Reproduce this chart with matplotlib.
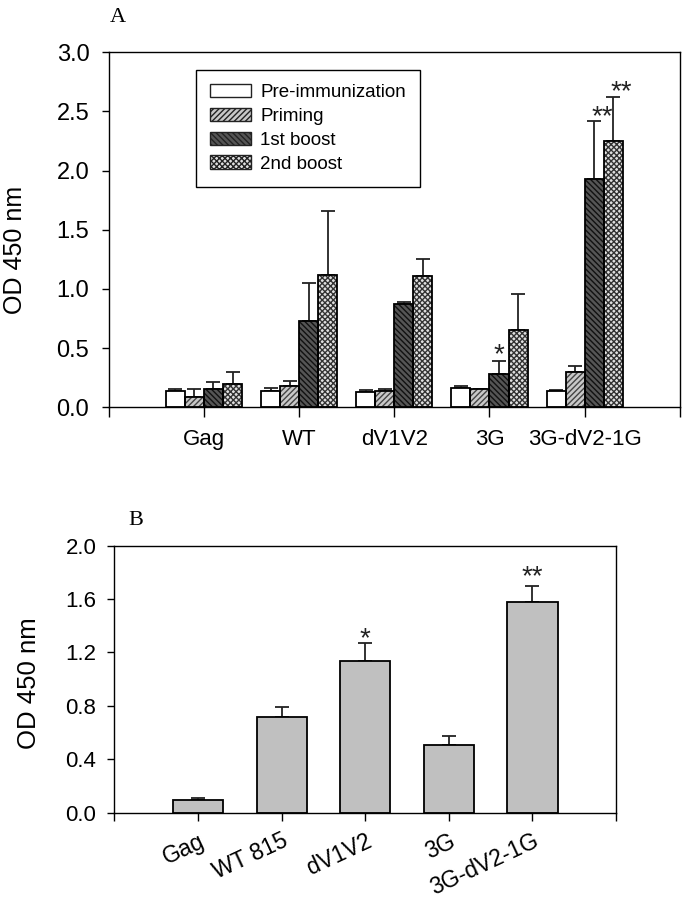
import numpy as np
import matplotlib
matplotlib.use('Agg')
import matplotlib.pyplot as plt
from matplotlib.patches import Patch

plt.rcParams['font.family'] = ['Liberation Sans', 'DejaVu Sans']
plt.rcParams['hatch.linewidth'] = 1.0

# panel A data
groups_a = ['Gag', 'WT', 'dV1V2', '3G', '3G-dV2-1G']
series_a = ['Pre-immunization', 'Priming', '1st boost', '2nd boost']
pre = [0.14, 0.14, 0.13, 0.16, 0.14]
pre_err = [0.015, 0.02, 0.012, 0.017, 0.006]
priming = [0.09, 0.18, 0.14, 0.15, 0.30]
priming_err = [0.06, 0.04, 0.015, 0.0, 0.05]
boost1 = [0.15, 0.73, 0.87, 0.28, 1.93]
boost1_err = [0.06, 0.32, 0.02, 0.11, 0.49]
boost2 = [0.20, 1.12, 1.11, 0.65, 2.25]
boost2_err = [0.10, 0.54, 0.14, 0.31, 0.37]
# (label, group index, series index, y of star centre)
stars_a = [('*', 3, 2, 0.52), ('**', 4, 2, 2.53), ('**', 4, 3, 2.74)]

# panel B data
groups_b = ['Gag', 'WT 815', 'dV1V2', '3G', '3G-dV2-1G']
vals_b = [0.095, 0.72, 1.14, 0.505, 1.58]
err_b = [0.015, 0.075, 0.13, 0.07, 0.12]
stars_b = [('*', 2, 1.37), ('**', 4, 1.83)]

# styles: face, hatch, hatch colour
styles = [('white', '', 'black'),
          ('#c8c8c8', '//////', '#444444'),
          ('#555555', '\\\\\\\\\\\\', '#111111'),
          ('#e0e0e0', 'xxxxxx', '#333333')]

STAR_FS = 20


def put_star(axis, xpos, ycen, lab):
    # asterisk glyph sits ~0.58 em above baseline, shift so its centre lands on ycen
    axis.annotate(lab, (xpos, ycen), xytext=(0, -0.58 * STAR_FS), textcoords='offset points',
                  ha='center', va='baseline', fontsize=STAR_FS, color='#222222')


fig = plt.figure(figsize=(6.93, 8.99), dpi=100)

# ---- panel A ----
ax = fig.add_axes([0.157, 0.547, 0.824, 0.395])
x = np.arange(1, len(groups_a) + 1)
w = 0.2
data = [(pre, pre_err), (priming, priming_err), (boost1, boost1_err), (boost2, boost2_err)]
for i, (vals, errs) in enumerate(data):
    face, hatch, hc = styles[i]
    pos = x + (i - 1.5) * w
    ax.bar(pos, vals, w, color=face, hatch=hatch, edgecolor=hc, linewidth=0, zorder=2)
    ax.bar(pos, vals, w, fill=False, edgecolor='black', linewidth=1.3, zorder=3)
    ax.errorbar(pos, vals, yerr=[np.zeros(len(errs)), errs], fmt='none', ecolor='#222222',
                elinewidth=1.3, capsize=5, capthick=1.3, zorder=1)

star_shift = {'*': 0.0, '**': 0.08}
for lab, g, s, yv in stars_a:
    put_star(ax, x[g] + (s - 1.5) * w + star_shift[lab], yv, lab)

ax.set_xlim(0, 6)
ax.set_ylim(0, 3.0)
ax.set_xticks(range(0, 7))
ax.set_xticklabels([''] + groups_a + [''], fontsize=16)
ax.set_yticks(np.arange(0, 3.01, 0.5))
ax.set_yticklabels(['%.1f' % v for v in np.arange(0, 3.01, 0.5)], fontsize=17)
ax.tick_params(direction='out', length=5, width=1)
ax.tick_params(axis='y', pad=9)
ax.tick_params(axis='x', length=7, pad=9)
ax.set_ylabel('OD 450 nm', fontsize=18, va='center')
ax.yaxis.set_label_coords(-0.165, 0.442)
for sp in ax.spines.values():
    sp.set_linewidth(1.0)

handles = [Patch(facecolor=styles[i][0], hatch=styles[i][1], edgecolor='#222222', linewidth=1.0)
           for i in range(4)]
leg = ax.legend(handles, series_a, loc='upper left', bbox_to_anchor=(0.152, 0.949), fontsize=13.5,
                frameon=True, fancybox=False, framealpha=1, edgecolor='black', borderaxespad=0,
                handlelength=2.2, handleheight=0.7, handletextpad=0.5, labelspacing=0.35,
                borderpad=0.75)
leg.get_frame().set_linewidth(1.0)
fig.text(0.159, 0.981, 'A', fontsize=16, family='Liberation Serif', va='center')

# ---- panel B ----
bx = fig.add_axes([0.165, 0.096, 0.724, 0.297])
xb = np.arange(1, len(groups_b) + 1)
bx.bar(xb, vals_b, 0.6, color='#c0c0c0', edgecolor='black', linewidth=1.3, zorder=2)
bx.errorbar(xb, vals_b, yerr=[np.zeros(len(err_b)), err_b], fmt='none', ecolor='#222222',
            elinewidth=1.3, capsize=5, capthick=1.3, zorder=1)
for lab, g, yv in stars_b:
    put_star(bx, xb[g], yv, lab)

bx.set_xlim(0, 6)
bx.set_ylim(0, 2.0)
bx.set_xticks(range(0, 7))
bx.set_xticklabels([''] + groups_b + [''], fontsize=16.5, rotation=25, ha='right',
                   rotation_mode='anchor')
bx.set_yticks(np.arange(0, 2.01, 0.4))
bx.set_yticklabels(['%.1f' % v for v in np.arange(0, 2.01, 0.4)], fontsize=16)
bx.tick_params(direction='out', length=5, width=1)
bx.tick_params(axis='y', pad=8)
bx.tick_params(axis='x', length=6, pad=6)
bx.set_ylabel('OD 450 nm', fontsize=18.5, va='center')
bx.yaxis.set_label_coords(-0.171, 0.487)
for sp in bx.spines.values():
    sp.set_linewidth(1.0)
fig.text(0.185, 0.4205, 'B', fontsize=16, family='Liberation Serif', va='center')

fig.savefig('out.png', dpi=100)
